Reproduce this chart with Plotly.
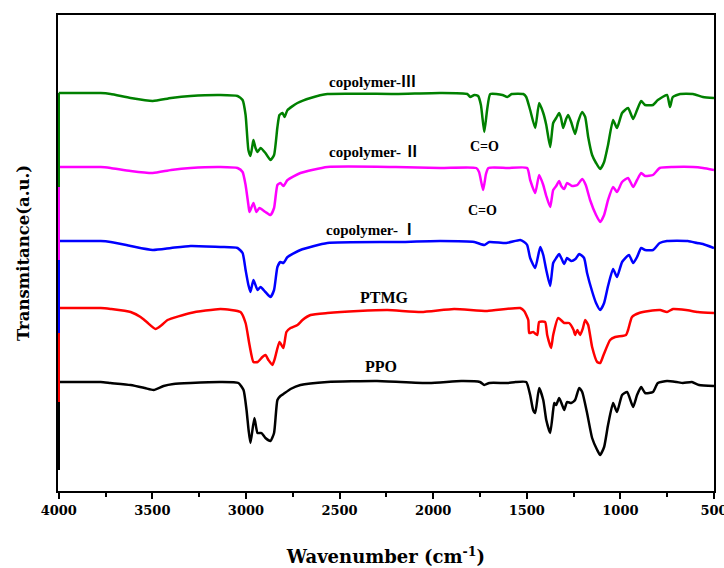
import plotly.graph_objects as go

# ---- data (wavenumber cm-1, transmittance in arbitrary stacked units) ----
wn_c3 = [4000, 4000, 3776, 3723, 3616, 3498, 3400, 3296, 3136, 3045, 3018, 3002, 2987, 2976, 2965, 2960, 2949, 2938, 2922, 2896, 2869, 2850, 2832, 2821, 2805, 2794, 2778, 2725, 2655, 2565, 2200, 1962, 1818, 1802, 1780, 1760, 1745, 1727, 1712, 1695, 1630, 1604, 1580, 1519, 1503, 1482, 1455, 1434, 1412, 1396, 1375, 1359, 1343, 1327, 1317, 1306, 1290, 1279, 1263, 1242, 1226, 1204, 1188, 1172, 1151, 1130, 1108, 1087, 1066, 1039, 1018, 991, 959, 932, 911, 889, 868, 826, 800, 751, 735, 720, 681, 612, 559, 500]
t_c3 = [304, 398, 398, 397, 393, 390, 393, 395, 396, 395, 391, 376, 341, 335, 346, 351, 343, 339, 343, 338, 331, 336, 364, 376, 378, 374, 381, 388, 393, 397, 397, 398, 397, 394, 396, 395, 386, 359, 381, 397, 396, 394, 397, 397, 394, 381, 363, 388, 378, 366, 344, 368, 373, 378, 373, 363, 372, 376, 369, 357, 369, 379, 374, 354, 336, 328, 322, 329, 346, 371, 363, 378, 383, 372, 381, 390, 386, 386, 391, 396, 384, 394, 397, 397, 394, 393]

wn_c2 = [4000, 4000, 3776, 3723, 3616, 3498, 3400, 3296, 3136, 3045, 3018, 3002, 2987, 2981, 2960, 2944, 2928, 2896, 2869, 2850, 2832, 2816, 2800, 2778, 2709, 2565, 2200, 1962, 1770, 1755, 1733, 1718, 1705, 1604, 1498, 1482, 1455, 1434, 1412, 1396, 1375, 1359, 1343, 1327, 1316, 1300, 1285, 1258, 1230, 1204, 1185, 1162, 1130, 1108, 1087, 1066, 1039, 1018, 991, 959, 932, 911, 889, 868, 826, 790, 719, 612, 559, 500]
t_c2 = [231, 324, 324, 323, 320, 318, 321, 323, 324, 323, 319, 306, 286, 279, 288, 279, 283, 279, 276, 283, 306, 308, 305, 311, 318, 324, 324, 323, 323, 319, 301, 317, 323, 323, 323, 311, 298, 316, 306, 295, 284, 301, 305, 310, 305, 302, 308, 305, 306, 312, 306, 291, 276, 269, 276, 291, 304, 299, 309, 313, 304, 311, 318, 315, 316, 323, 324, 324, 323, 321]

wn_c1 = [4000, 4000, 3776, 3723, 3616, 3498, 3400, 3296, 3136, 3045, 3018, 3002, 2987, 2976, 2960, 2938, 2922, 2896, 2869, 2850, 2832, 2816, 2800, 2778, 2709, 2565, 2200, 1962, 1780, 1727, 1700, 1610, 1535, 1514, 1498, 1482, 1455, 1428, 1412, 1396, 1375, 1359, 1343, 1327, 1311, 1300, 1285, 1263, 1240, 1220, 1194, 1178, 1150, 1130, 1108, 1087, 1066, 1039, 1018, 991, 954, 932, 911, 889, 868, 826, 790, 751, 640, 590, 559, 500]
t_c1 = [158, 250, 250, 249, 245, 241, 243, 245, 244, 243, 238, 221, 206, 199, 211, 201, 204, 199, 194, 201, 224, 229, 228, 234, 241, 248, 249, 250, 249, 246, 249, 248, 251, 249, 246, 233, 223, 244, 236, 221, 205, 228, 233, 237, 231, 227, 233, 230, 232, 237, 233, 218, 199, 188, 181, 188, 205, 222, 214, 229, 236, 228, 234, 243, 241, 241, 248, 250, 250, 248, 247, 243]

wn_ptmg = [4000, 4000, 3776, 3723, 3616, 3563, 3530, 3483, 3450, 3419, 3296, 3136, 3029, 3002, 2981, 2960, 2938, 2912, 2896, 2880, 2859, 2845, 2821, 2800, 2784, 2762, 2725, 2698, 2655, 2565, 2400, 2244, 2064, 1888, 1712, 1535, 1514, 1492, 1487, 1466, 1444, 1434, 1402, 1391, 1370, 1359, 1332, 1300, 1274, 1250, 1242, 1230, 1215, 1200, 1188, 1172, 1151, 1124, 1108, 1090, 1055, 1028, 970, 959, 938, 900, 847, 788, 751, 719, 650, 586, 500]
t_ptmg = [89, 183, 183, 182, 179, 174, 169, 162, 166, 171, 178, 182, 179, 168, 146, 129, 129, 134, 136, 131, 126, 133, 149, 143, 159, 163, 166, 171, 176, 178, 180, 181, 179, 182, 180, 183, 180, 171, 158, 159, 156, 169, 169, 156, 143, 156, 173, 168, 168, 161, 156, 161, 156, 163, 171, 166, 144, 129, 128, 136, 151, 154, 156, 161, 174, 178, 180, 181, 179, 182, 181, 179, 178]

wn_ppo = [4000, 4000, 3776, 3723, 3616, 3540, 3493, 3440, 3387, 3296, 3136, 3040, 3013, 2997, 2986, 2976, 2955, 2938, 2917, 2896, 2869, 2850, 2832, 2816, 2800, 2762, 2709, 2565, 2300, 2022, 1850, 1750, 1727, 1700, 1604, 1560, 1503, 1482, 1466, 1455, 1434, 1412, 1396, 1375, 1359, 1353, 1343, 1327, 1311, 1300, 1285, 1263, 1242, 1220, 1204, 1178, 1151, 1124, 1108, 1087, 1066, 1039, 1018, 991, 964, 932, 911, 889, 868, 826, 800, 751, 700, 666, 618, 580, 500]
t_ppo = [21, 109, 109, 108, 106, 103, 101, 105, 107, 108, 109, 108, 101, 81, 61, 48, 73, 58, 58, 53, 50, 58, 91, 95, 97, 102, 106, 109, 110, 108, 110, 109, 106, 108, 108, 109, 109, 96, 81, 78, 103, 91, 71, 58, 81, 88, 86, 93, 86, 81, 89, 88, 91, 103, 99, 78, 53, 41, 36, 44, 66, 88, 79, 96, 99, 84, 96, 104, 98, 99, 108, 110, 109, 108, 109, 106, 105]

series = [
    ("PPO", wn_ppo, t_ppo, "#000000"),
    ("PTMG", wn_ptmg, t_ptmg, "#ff0000"),
    ("copolymer-Ⅰ", wn_c1, t_c1, "#0000ff"),
    ("copolymer-Ⅱ", wn_c2, t_c2, "#ff00ff"),
    ("copolymer-Ⅲ", wn_c3, t_c3, "#008000"),
]

# labels: (text, wavenumber, y, font size)
labels_text = ["copolymer-Ⅲ", "C=O", "copolymer- Ⅱ", "C=O", "copolymer- Ⅰ", "PTMG", "PPO"]
labels_x = [2325, 1727, 2314, 1738, 2330, 2261, 2277]
labels_y = [409, 345, 339, 281, 261, 194, 125]
labels_size = [15, 14, 15, 14, 15, 16, 16]

fig = go.Figure()
for name, x, y, c in series:
    # initial vertical segment at the start of the scan (straight)
    fig.add_trace(go.Scatter(x=x[:2], y=y[:2], mode="lines", name=name,
                             line=dict(color=c, width=2.5),
                             showlegend=False, hoverinfo="skip"))
    # the spectrum itself (smoothed)
    fig.add_trace(go.Scatter(x=x[1:], y=y[1:], mode="lines", name=name,
                             line=dict(color=c, width=2.5, shape="spline", smoothing=0.5),
                             showlegend=False, hoverinfo="skip"))

for t, x, y, s in zip(labels_text, labels_x, labels_y, labels_size):
    fig.add_annotation(x=x, y=y, text=t, showarrow=False,
                       font=dict(family="Liberation Serif, Noto Sans CJK SC, serif", size=s,
                                 color="black", weight="bold"),
                       xanchor="center", yanchor="middle")

fig.update_layout(
    width=724, height=568,
    margin=dict(l=58, r=10, t=15, b=77),
    plot_bgcolor="white", paper_bgcolor="white",
    font=dict(family="DejaVu Serif, serif", color="black"),
)
fig.update_xaxes(
    range=[4004, 500], autorange=False, automargin=False,
    showline=True, linecolor="black", linewidth=2, mirror=True, layer="below traces",
    showgrid=False, zeroline=False,
    ticks="outside", ticklen=6, tickwidth=2, tickcolor="black",
    tick0=500, dtick=500, ticklabeloverflow="allow",
    minor=dict(ticks="outside", ticklen=4, tickwidth=1.5, tickcolor="black", dtick=250, tick0=500, showgrid=False),
    tickfont=dict(family="DejaVu Serif, serif", size=13, color="black", weight="bold"),
    title=dict(text="Wavenumber (cm<sup>-1</sup>)", standoff=34,
               font=dict(family="DejaVu Serif, serif", size=18, color="black", weight="bold")),
)
fig.update_yaxes(
    range=[0, 476], autorange=False, automargin=False,
    showline=True, linecolor="black", linewidth=2, mirror=True, layer="below traces",
    showgrid=False, zeroline=False, showticklabels=False, ticks="",
    title=dict(text="Transmitance(a.u.)", standoff=22,
               font=dict(family="DejaVu Serif, serif", size=16.5, color="black", weight="bold")),
)

fig.write_html("out.html")
